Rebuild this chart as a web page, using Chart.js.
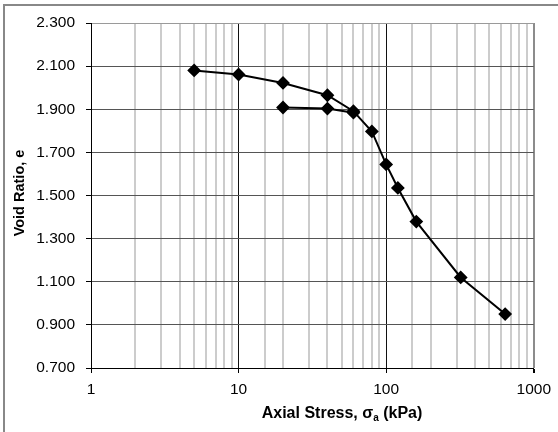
<!DOCTYPE html>
<html>
<head>
<meta charset="utf-8">
<script src="https://cdn.jsdelivr.net/npm/chart.js@4.4.1/dist/chart.umd.min.js"></script>
<style>
	body { margin:0; background:#fff; }
	#wrap { width:558px; height:432px; position:relative; }
</style>
</head>
<body>
<div id="wrap"><canvas id="consol-chart"></canvas></div>
<script>
// loading branch
var loadStress = [5, 10, 20, 40, 60, 80, 100, 120, 160, 320, 640];
var loadVoid = [2.080, 2.061, 2.022, 1.965, 1.891, 1.797, 1.644, 1.535, 1.379, 1.120, 0.950];
// unload / reload loop
var unloadStress = [60, 40, 20];
var unloadVoid = [1.884, 1.903, 1.908];

var xLabels = [1, 10, 100, 1000];
var yMin = 0.7, yMax = 2.3, yStep = 0.2;

function toPoints(xs, ys){
	var pts = [];
	for (var i = 0; i < xs.length; i++) pts.push({x:xs[i], y:ys[i]});
	return pts;
}

function isDecade(v){
	return xLabels.indexOf(Math.round(v)) >= 0 && Math.abs(v - Math.round(v)) < 1e-6;
}

var frameAndTitles = {
	id:'frameAndTitles',
	beforeDraw:function(chart){
		var c = chart.ctx;
		c.save();
		c.strokeStyle = '#888888';
		c.lineWidth = 2;
		c.beginPath();
		c.moveTo(4, 432);
		c.lineTo(4, 5);
		c.lineTo(558, 5);
		c.stroke();
		c.restore();
	},
	afterDraw:function(chart){
		var c = chart.ctx;
		c.save();
		c.fillStyle = '#000';
		// y title
		c.font = 'bold 14.5px "Liberation Sans", Arial, sans-serif';
		c.translate(20, 193);
		c.rotate(-Math.PI/2);
		c.textAlign = 'center';
		c.textBaseline = 'middle';
		c.fillText('Void Ratio, e', 0, 0);
		c.restore();

		// x title with subscript
		c.save();
		c.fillStyle = '#000';
		var big = 'bold 16px "Liberation Sans", Arial, sans-serif';
		var small = 'bold 10px "Liberation Sans", Arial, sans-serif';
		var parts = [['Axial Stress, \u03c3', big, 0], ['a', small, 4], [' (kPa)', big, 0]];
		var total = 0;
		parts.forEach(function(p){ c.font = p[1]; total += c.measureText(p[0]).width; });
		var x = 342 - total/2, y = 414;
		c.textBaseline = 'middle';
		c.textAlign = 'left';
		parts.forEach(function(p){
			c.font = p[1];
			c.fillText(p[0], x, y + p[2]);
			x += c.measureText(p[0]).width;
		});
		c.restore();
	}
};

var tickFont = {family:'"Liberation Sans", Arial, sans-serif', size:15.5};

var chart = new Chart(document.getElementById('consol-chart'), {
	type:'scatter',
	data:{
		datasets:[
			{
				data:toPoints(loadStress, loadVoid),
				showLine:true,
				borderColor:'#000',
				borderWidth:2,
				backgroundColor:'#000',
				pointStyle:'rectRot',
				pointRadius:5.5,
				pointHoverRadius:5.5
			},
			{
				data:toPoints(unloadStress, unloadVoid),
				showLine:true,
				borderColor:'#000',
				borderWidth:2,
				backgroundColor:'#000',
				pointStyle:'rectRot',
				pointRadius:5.5,
				pointHoverRadius:5.5
			}
		]
	},
	options:{
		responsive:true,
		maintainAspectRatio:false,
		animation:false,
		layout:{padding:{left:0, top:23, right:19, bottom:0}},
		plugins:{legend:{display:false}, tooltip:{enabled:false}},
		scales:{
			x:{
				type:'logarithmic',
				min:1,
				max:1000,
				afterFit:function(s){ s.height = 64; },
				border:{color:'#000', width:1},
				grid:{
					drawOnChartArea:true,
					tickLength:5,
					color:function(ctx){
						var v = ctx.tick ? ctx.tick.value : 0;
						if (Math.abs(v - 1000) < 1e-6) return '#8c8c8c';
						if (Math.abs(v - 1) < 1e-6) return '#000';
						return isDecade(v) ? '#111' : '#cccccc';
					},
					lineWidth:function(ctx){
						var v = ctx.tick ? ctx.tick.value : 0;
						if (Math.abs(v - 1000) < 1e-6) return 2;
						return isDecade(v) ? 1 : 2;
					},
					tickColor:function(ctx){
						var v = ctx.tick ? ctx.tick.value : 0;
						return isDecade(v) ? '#000' : 'rgba(0,0,0,0)';
					}
				},
				ticks:{
					autoSkip:false,
					maxRotation:0,
					padding:7,
					color:'#000',
					font:tickFont,
					callback:function(v){ return isDecade(v) ? String(Math.round(v)) : ''; }
				}
			},
			y:{
				type:'linear',
				min:yMin,
				max:yMax,
				afterFit:function(s){ s.width = 91; },
				border:{color:'#000', width:1},
				grid:{
					tickLength:5,
					tickColor:'#000',
					color:function(ctx){
						var v = ctx.tick ? ctx.tick.value : 0;
						return Math.abs(v - yMax) < 1e-6 ? '#9a9a9a' : '#555';
					}
				},
				ticks:{
					stepSize:yStep,
					padding:11,
					color:'#000',
					font:tickFont,
					callback:function(v){ return Number(v).toFixed(3); }
				}
			}
		}
	},
	plugins:[frameAndTitles]
});
</script>
</body>
</html>
